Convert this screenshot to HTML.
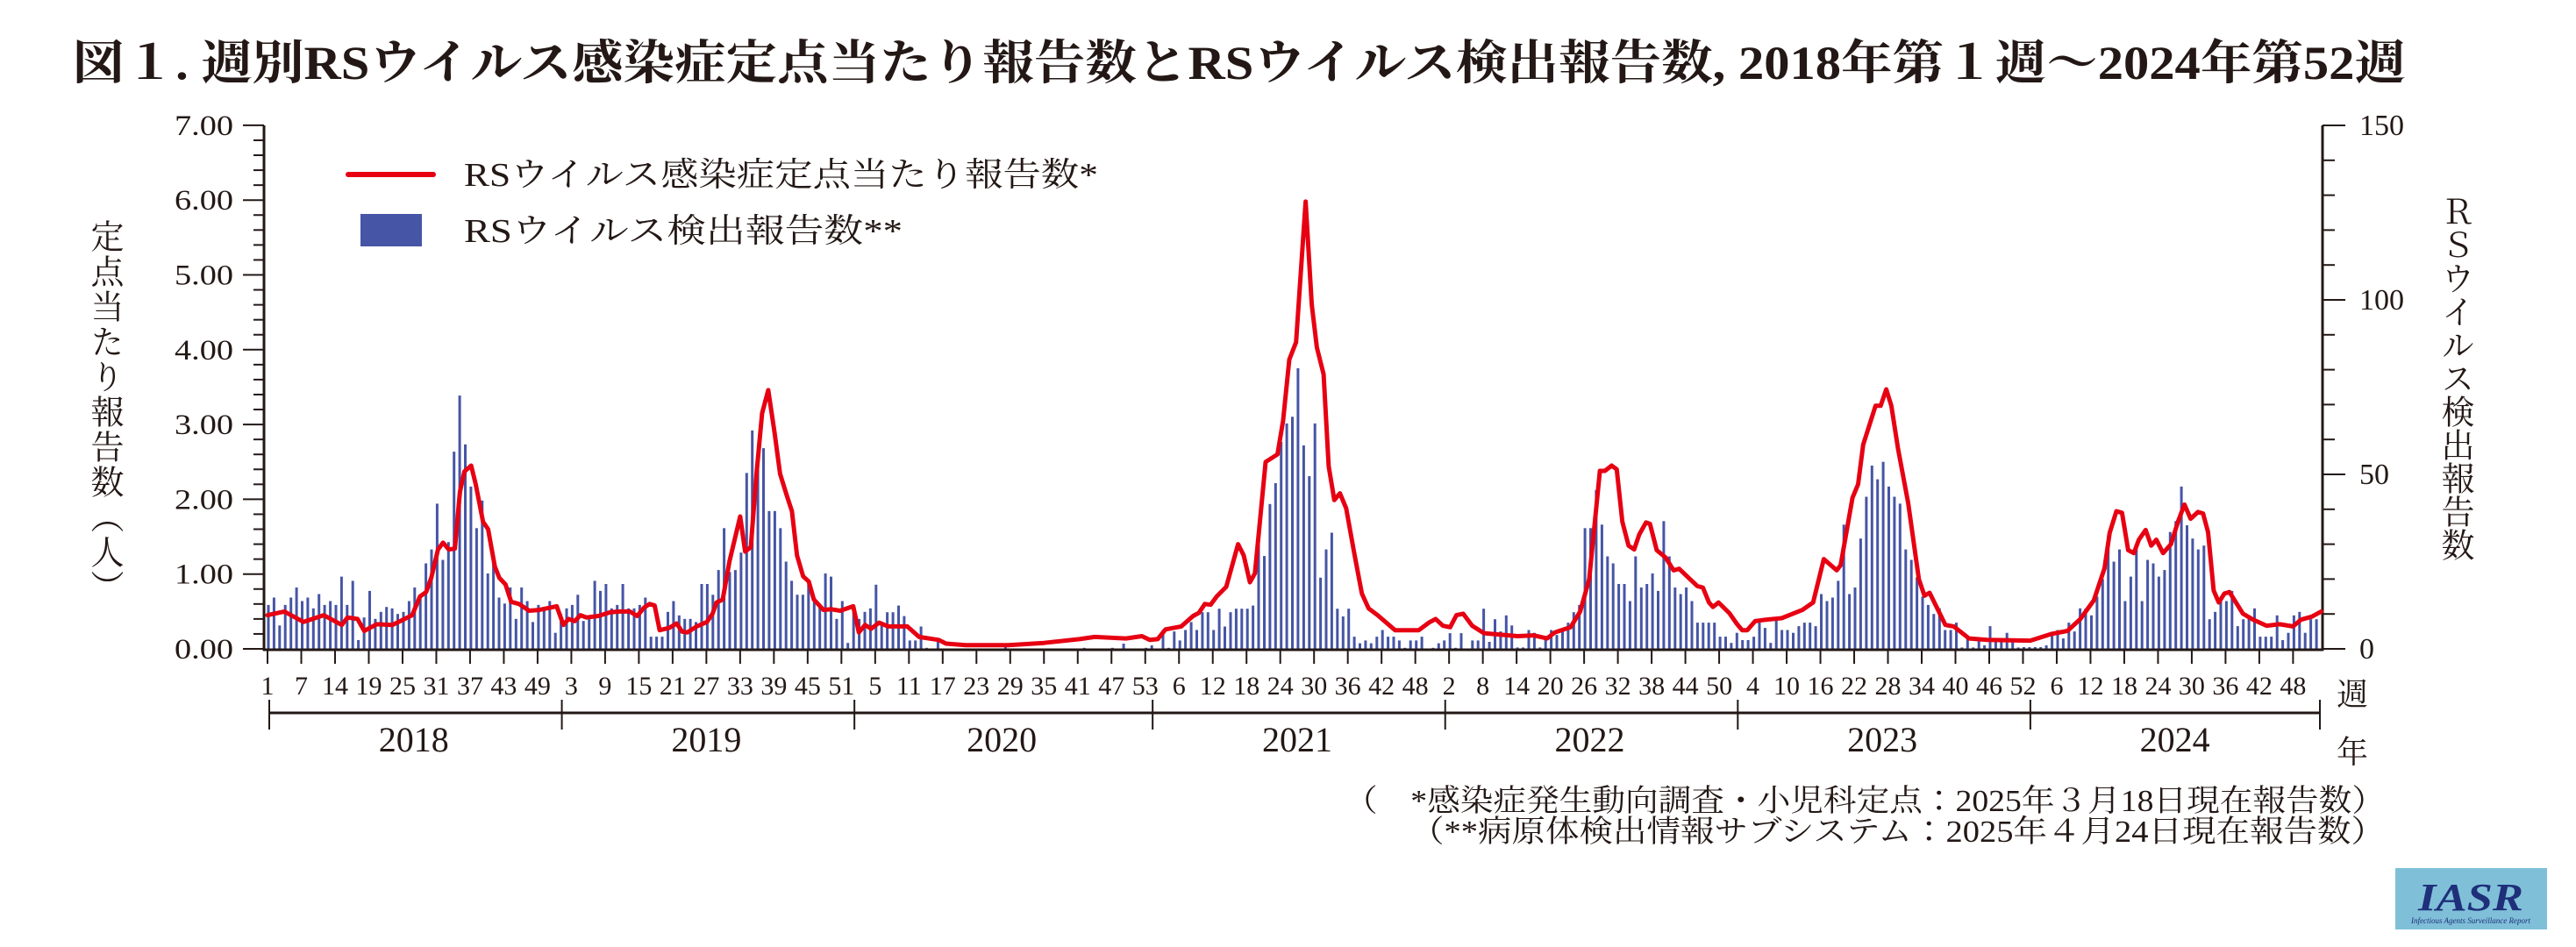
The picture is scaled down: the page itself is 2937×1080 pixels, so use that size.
<!DOCTYPE html>
<html><head><meta charset="utf-8">
<style>
html,body{margin:0;padding:0;background:#fff;}
#w{position:relative;width:2937px;height:1080px;overflow:hidden;background:#fff;}
.v{position:absolute;writing-mode:vertical-rl;font-family:"Liberation Serif","Noto Serif CJK JP","Noto Serif CJK SC",serif;color:#231815;}
svg text{font-family:"Liberation Serif","Noto Serif CJK JP","Noto Serif CJK SC",serif;fill:#231815;}
</style></head><body>
<div id="w">
<svg id="s" width="2937" height="1080" xmlns="http://www.w3.org/2000/svg" style="position:absolute;left:0;top:0">
<text x="83" y="90" font-size="54" font-weight="bold" textLength="2660" lengthAdjust="spacingAndGlyphs">図１. 週別RSウイルス感染症定点当たり報告数とRSウイルス検出報告数, 2018年第１週～2024年第52週</text>
<g id="bars" fill="#4655a5"></g>
<g id="axes" stroke="#231815" fill="none"></g>
<polyline id="line" fill="none" stroke="#e60012" stroke-width="5" stroke-linejoin="round" stroke-linecap="round"/>
<g id="labels"></g>
<!-- legend -->
<line x1="397" y1="199" x2="494" y2="199" stroke="#e60012" stroke-width="6" stroke-linecap="round"/>
<text x="529" y="212" font-size="38" textLength="723" lengthAdjust="spacingAndGlyphs">RSウイルス感染症定点当たり報告数*</text>
<rect x="411" y="244" width="70" height="37" fill="#4655a5"/>
<text x="529" y="276" font-size="38" textLength="500" lengthAdjust="spacingAndGlyphs">RSウイルス検出報告数**</text>
<text x="2682" y="804" font-size="36" text-anchor="middle">週</text>
<text x="2682" y="870" font-size="36" text-anchor="middle">年</text>
<text x="1533" y="925" font-size="35" textLength="1186" lengthAdjust="spacingAndGlyphs">（　*感染症発生動向調査・小児科定点：2025年３月18日現在報告数）</text>
<text x="1608" y="960" font-size="35" textLength="1111" lengthAdjust="spacingAndGlyphs">（**病原体検出情報サブシステム：2025年４月24日現在報告数）</text>
<rect x="2731" y="990" width="173" height="70" fill="#7fc0d8"/>
<text x="2817" y="1038" font-size="44" font-style="italic" font-weight="bold" text-anchor="middle" style="fill:#1f2f7a" textLength="120" lengthAdjust="spacingAndGlyphs">IASR</text>
<text x="2817" y="1053" font-size="9" font-style="italic" text-anchor="middle" style="fill:#1f2f7a">Infectious Agents Surveillance Report</text>
</svg>
<div class="v" style="left:98px;top:250px;font-size:38px;line-height:40px;letter-spacing:2px;">定点当たり報告数（人）</div>
<div class="v" style="left:2778px;top:222px;font-size:38px;line-height:40px;letter-spacing:0px;">ＲＳウイルス検出報告数</div>
</div>
<script>
var NS="http://www.w3.org/2000/svg";
function el(p,t,a,txt){var e=document.createElementNS(NS,t);for(var k in a)e.setAttribute(k,a[k]);if(txt!==undefined)e.textContent=txt;p.appendChild(e);return e;}
var X0=305,DX=6.415,Y0=740,PY=85.3,PC=3.98;
function X(i){return X0+DX*i;}
var bars=[12.6,14.7,6.7,12.6,14.7,17.6,13.7,14.7,11.6,15.7,12.6,13.7,12.6,20.7,12.6,19.5,2.5,9,16.6,8.6,10.6,12,11.6,10,10.6,13.7,17.6,15.5,24.5,28.5,41.6,25.5,30.6,56.5,72.6,58.6,46.5,34.6,42.5,21.6,26.5,14.7,13,17.6,8.6,17.6,13.7,7.7,12.6,12,13.7,4.6,
10,11.6,12.6,15.5,8,9,19.5,16.6,18.6,11.6,12.6,18.6,11.6,11.6,12.6,14.7,3.5,3.5,3.5,10.6,13.7,9.6,8.6,8.6,7.7,18.6,18.6,15.5,22.6,34.6,22,22.6,27.6,50.4,62.6,54.6,57.5,39.5,39.5,34.6,25,19.5,15.5,15.5,18.6,14.7,12,21.6,20.7,8.6,13.7,1.7];
var sp={104:12.6,105:8.6,106:10.6,107:11.6,108:18.4,109:7.4,110:10.5,111:10.5,112:12.4,113:9.4,114:2.4,115:2.4,116:6.4,117:0.3,119:2.4,131:1.3,145:0.3,150:0.3,152:1.5,156:0.3,157:1,159:5.4,160:0.3,161:5,162:2.4,163:5.4,164:7.7,165:5.4,166:10.5,167:10.5,168:5.4,169:11.5,170:6.4,171:10.5,172:11.5,173:11.5,174:11.5,175:12.4,176:30.4,177:26.6,178:41.5,179:47.5,180:59.3,181:64.6,182:66.5,183:80.4,184:58.3,185:49.5,186:64.6,187:20.4,188:28.5,189:33.3,190:11.5,191:9.3,192:11.5,193:3.5,194:1.6,195:2.4,196:1.6,197:3.5,198:5.4,199:3.5,200:3.5,201:2.4,202:0.3,203:2.4,204:2.4,205:3.5,207:0.3,208:1.6,209:2.4,210:4.5,211:0.3,212:4.5,214:2.4,215:2.4,216:11.5,217:2};
for(var i=104;i<218;i++)bars.push(sp[i]||0);
bars=bars.concat([8.5,5,9.6,6.7,0.4,0.4,5.4,4.6,0.4,3,5.4,4,5.4,7.5,10.5,12.6,34.6,34.6,45.5,35.6,26.5,24.5,18.6,18.6,13.7,26.5,17.6,18.6,21.6,16.6,36.6,26.5,17.6,15.7,17.6,13.7,7.5,7.5,7.5,7.5,3.5,3.5,1.7,4.6,2.5,2.5,3.5,7.5,6,1.7,8.5,5.4,5.4,4.6,6.5,7.5,7.5,6.5,15.7,13.7,14.7,19.5,35.6,15.7,17.6,31.6,43.6,52.5,48.6,53.6,46.5,43.6,41.6,28.5,25.5,20.5,15,12.6,10,11.6,5.4,5.4,7.5,0.4,3.5,0.4,2.5,1,6.5,2.5,2.5,4.6,2.5,0.4,0.5,0.5,0.5,0.5,1,4.6,5.4,3,7.5,5,11.6,11.6,9.6,15,20,32.5,25,28.5,13.7,20.7,29.6,13.7,25.5,24.5,20.7,22.6,33.5,36.6,46.5,35.4,31.6,28.5,29.6,8.5,10.6,13.7,13.7,16.6,6.5,8.5,9.6,11.6,3.5,3.5,3.5,9.6,2.5,4.6,9.6,10.6,4.6,8.5,8.5]);
var bg=document.getElementById('bars');
for(var i=0;i<bars.length&&i<365;i++){var h=bars[i]*PC;if(h>0)el(bg,'rect',{x:(X(i)-0.5).toFixed(1),y:(Y0-h).toFixed(1),width:3,height:h.toFixed(1)});}
var L=[0,.45,3,.5,6.4,.36,10,.45,13.2,.32,14.2,.42,16,.4,17.2,.24,19.4,.33,22.2,.32,25.7,.45,27.1,.7,28.2,.76,29.1,.95,30.3,1.33,31.2,1.42,32.2,1.33,33.3,1.34,34.2,2.1,35,2.37,36.2,2.45,37,2.2,38.3,1.7,39.2,1.6,40.4,1.1,41.2,.95,42.3,.86,43.3,.63,44.7,.6,46.5,.51,48.3,.52,51.4,.57,52.6,.32,53.5,.4,54.6,.37,55.6,.45,56.7,.42,58.8,.44,60.9,.49,62.6,.5,64.4,.5,65.7,.44,66.9,.55,67.9,.6,68.8,.58,69.7,.25,71.4,.28,72.7,.34,73.7,.23,74.6,.22,76.3,.3,78.1,.36,79.1,.47,79.8,.62,80.9,.66,82.1,1.17,84,1.77,84.9,1.3,85.9,1.36,86.9,2.34,87.9,3.15,89,3.46,90.1,2.9,91.1,2.34,92.2,2.07,93.2,1.84,94.1,1.25,95.2,.97,96.2,.9,97.1,.66,98.8,.52,100.2,.53,101.8,.51,104.1,.57,105.1,.22,106.2,.32,107.3,.27,108.7,.35,110.3,.3,113.7,.3,115.8,.16,119.3,.12,120.6,.07,124.1,.05,131.7,.05,138,.08,144.3,.13,147,.16,152.6,.14,155.4,.17,156.8,.12,158.2,.13,159.6,.26,162.4,.3,164.5,.44,165.5,.48,166.6,.6,167.6,.59,168.7,.7,170.4,.83,172.5,1.4,173.5,1.25,174.6,.89,175.5,1.01,177.4,2.5,179.5,2.6,180.5,3.05,181.6,3.87,182.8,4.1,184.5,5.98,185.6,4.6,186.5,4.03,187.7,3.67,188.6,2.44,189.6,1.99,190.6,2.08,191.7,1.88,193.1,1.3,194.5,.74,195.7,.54,197.3,.45,200.4,.25,204.6,.25,206.4,.35,207.6,.4,208.9,.31,210.2,.29,211.3,.45,212.5,.47,214.1,.31,216.2,.21,217.5,.2,222.2,.17,225,.18,227.4,.14,228.8,.22,231.6,.29,233.3,.5,234.9,.93,236.8,2.38,237.7,2.38,238.9,2.45,239.8,2.4,240.8,1.7,241.9,1.38,242.9,1.33,243.8,1.53,245,1.69,245.7,1.67,246.9,1.32,248.5,1.22,249.9,1.05,250.9,1.07,252.3,.97,254.1,.84,255.1,.82,256.2,.62,256.9,.56,257.9,.62,259.8,.48,261.2,.33,262.1,.25,263,.25,264.4,.37,266.3,.39,269.1,.41,272.8,.52,274.7,.62,276.6,1.2,278.9,1.05,279.6,1.12,281.7,2.02,282.7,2.2,283.6,2.73,285.8,3.25,286.7,3.25,287.7,3.47,288.6,3.25,289.8,2.67,291.6,1.95,293.5,.93,294.5,.71,295.4,.75,298.2,.32,299.7,.3,302.4,.14,305.7,.12,313.3,.11,317.1,.2,319.9,.24,322.2,.4,324.6,.65,326.5,1.08,327.4,1.55,328.6,1.84,329.6,1.82,330.7,1.32,331.7,1.28,332.6,1.46,333.8,1.59,334.8,1.38,335.7,1.46,336.9,1.28,338.3,1.4,339.6,1.71,340.7,1.93,341.8,1.74,343.1,1.83,344,1.81,344.9,1.56,345.9,.78,346.8,.62,347.8,.74,348.7,.76,351.1,.47,352.9,.39,355.3,.31,357.6,.33,360,.3,361.4,.39,363.3,.43,365,.5];
var pts=[];for(var k=0;k<L.length;k+=2)pts.push(X(L[k]).toFixed(1)+','+(Y0-L[k+1]*PY).toFixed(1));
document.getElementById('line').setAttribute('points',pts.join(' '));
var ax=document.getElementById('axes');
el(ax,'line',{x1:301,y1:143,x2:301,y2:742,'stroke-width':3});
el(ax,'line',{x1:2648,y1:143,x2:2648,y2:742,'stroke-width':3});
el(ax,'line',{x1:300,y1:741,x2:2649,y2:741,'stroke-width':3});
var lb=document.getElementById('labels');
for(var j=0;j<=35;j++){var y=Y0-j*PY/5;var maj=j%5==0;el(ax,'line',{x1:maj?277:289,y1:y,x2:301,y2:y,'stroke-width':2});
 if(maj)el(lb,'text',{x:266,y:y+11,'font-size':33,'text-anchor':'end',textLength:67,lengthAdjust:'spacingAndGlyphs'},(j/5).toFixed(2));}
for(var j=0;j<=15;j++){var y=Y0-j*10*PC;var maj=j%5==0;el(ax,'line',{x1:2648,y1:y,x2:maj?2674:2662,y2:y,'stroke-width':2});
 if(maj)el(lb,'text',{x:2690,y:y+11,'font-size':34},String(j*10));}
var wl=["1","7","14","19","25","31","37","43","49","3","9","15","21","27","33","39","45","51","5","11","17","23","29","35","41","47","53","6","12","18","24","30","36","42","48","2","8","14","20","26","32","38","44","50","4","10","16","22","28","34","40","46","52","6","12","18","24","30","36","42","48"];
for(var k=0;k<wl.length;k++){var x=X(6*k);el(ax,'line',{x1:x,y1:742,x2:x,y2:757,'stroke-width':2});
 el(lb,'text',{x:x,y:792,'font-size':30,'text-anchor':'middle'},wl[k]);}
el(ax,'line',{x1:307,y1:813,x2:2645,y2:813,'stroke-width':3});
var yb=[0,52,104,157,209,261,313,365];var yrs=["2018","2019","2020","2021","2022","2023","2024"];
for(var k=0;k<yb.length;k++){var x=X(yb[k])+2;if(k==7)x=2645;el(ax,'line',{x1:x,y1:798,x2:x,y2:832,'stroke-width':2});
 if(k<7)el(lb,'text',{x:(X(yb[k])+X(yb[k+1]))/2,y:857,'font-size':40,'text-anchor':'middle'},yrs[k]);}
</script>
</body></html>
